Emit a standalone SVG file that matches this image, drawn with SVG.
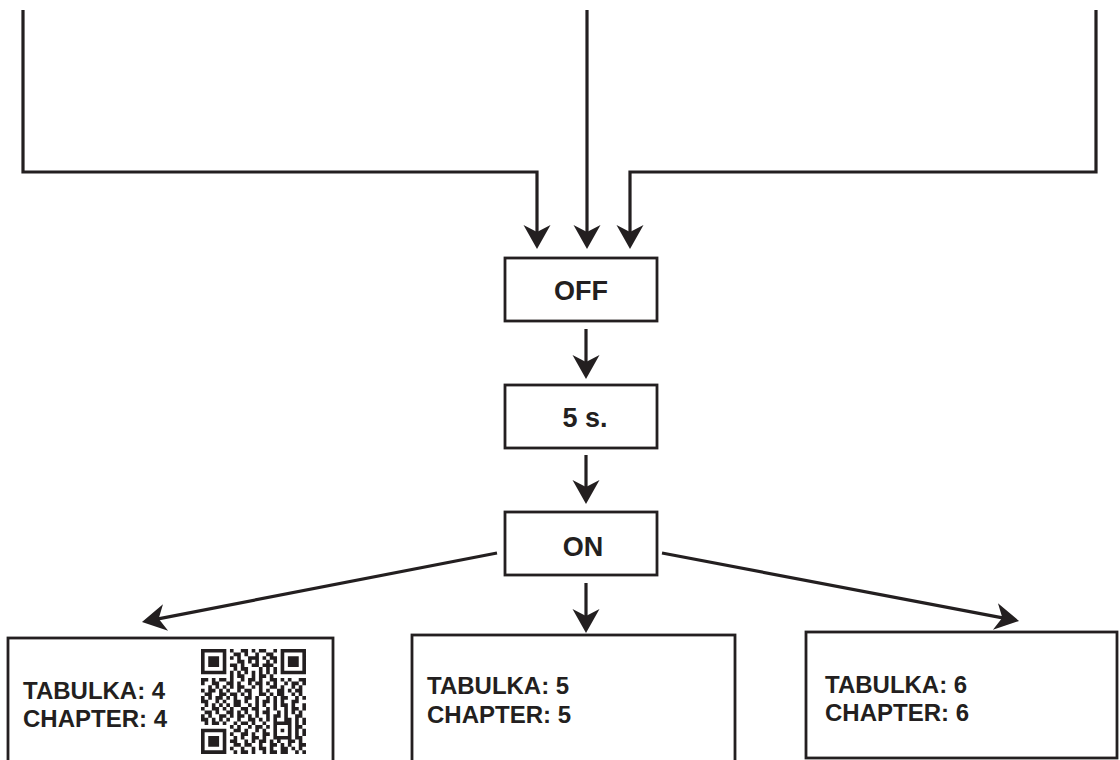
<svg xmlns="http://www.w3.org/2000/svg" width="1120" height="760" viewBox="0 0 1120 760">
<defs>
<style>
.ln{fill:none;stroke:#231f20;stroke-width:3.2;marker-end:url(#ah)}
.bx{fill:#fff;stroke:#231f20;stroke-width:2.8}
.t{font-family:"Liberation Sans",Arial,sans-serif;font-weight:bold;fill:#231f20}
.tc{font-size:27px;text-anchor:middle}
.tb{font-size:24px}
</style>
<marker id="ah" markerUnits="userSpaceOnUse" orient="auto" refX="0" refY="0" markerWidth="40" markerHeight="40" overflow="visible">
<path d="M10,0 L-14,-13.5 L-7,0 L-14,13.5 Z" fill="#231f20"/>
</marker>
</defs>
<rect width="1120" height="760" fill="#fff"/>
<g id="connectors">
<path class="ln" d="M23,10 V172 H537 V239"/>
<path class="ln" d="M587,10 V239"/>
<path class="ln" d="M1096,10 V172 H630 V239"/>
<path class="ln" d="M586,329 V369"/>
<path class="ln" d="M586,455 V494"/>
<path class="ln" d="M586,583 V623"/>
<path class="ln" d="M497,553 L151.8,620.1"/>
<path class="ln" d="M662,553 L1009.2,619.1"/>
</g>
<g id="node-off">
<rect class="bx" x="505" y="258" width="152" height="63"/>
<text class="t tc" x="581" y="300">OFF</text>
</g>
<g id="node-5s">
<rect class="bx" x="505" y="385" width="152" height="63"/>
<text class="t tc" x="585" y="427">5 s.</text>
</g>
<g id="node-on">
<rect class="bx" x="505" y="512" width="152" height="63"/>
<text class="t tc" x="583" y="556">ON</text>
</g>
<g id="node-ch4">
<rect class="bx" x="8" y="638" width="325" height="140"/>
<text class="t tb" x="23" y="699">TABULKA: 4</text>
<text class="t tb" x="23" y="727">CHAPTER: 4</text>
<path fill="#231f20" transform="translate(201,649) scale(3.62)" d="M0 0h7v1h-7zM8 0h1v1h-1zM11 0h2v1h-2zM14 0h1v1h-1zM16 0h2v1h-2zM20 0h1v1h-1zM22 0h7v1h-7zM0 1h1v1h-1zM6 1h1v1h-1zM9 1h2v1h-2zM12 1h1v1h-1zM15 1h1v1h-1zM18 1h2v1h-2zM22 1h1v1h-1zM28 1h1v1h-1zM0 2h1v1h-1zM2 2h3v1h-3zM6 2h1v1h-1zM8 2h1v1h-1zM10 2h1v1h-1zM13 2h3v1h-3zM17 2h1v1h-1zM19 2h2v1h-2zM22 2h1v1h-1zM24 2h3v1h-3zM28 2h1v1h-1zM0 3h1v1h-1zM2 3h3v1h-3zM6 3h1v1h-1zM10 3h2v1h-2zM13 3h1v1h-1zM15 3h1v1h-1zM18 3h1v1h-1zM20 3h1v1h-1zM22 3h1v1h-1zM24 3h3v1h-3zM28 3h1v1h-1zM0 4h1v1h-1zM2 4h3v1h-3zM6 4h1v1h-1zM8 4h2v1h-2zM11 4h1v1h-1zM14 4h2v1h-2zM17 4h3v1h-3zM22 4h1v1h-1zM24 4h3v1h-3zM28 4h1v1h-1zM0 5h1v1h-1zM6 5h1v1h-1zM9 5h1v1h-1zM11 5h2v1h-2zM16 5h1v1h-1zM18 5h1v1h-1zM20 5h1v1h-1zM22 5h1v1h-1zM28 5h1v1h-1zM0 6h7v1h-7zM8 6h1v1h-1zM10 6h1v1h-1zM12 6h1v1h-1zM14 6h1v1h-1zM16 6h1v1h-1zM18 6h1v1h-1zM20 6h1v1h-1zM22 6h7v1h-7zM8 7h1v1h-1zM10 7h2v1h-2zM14 7h1v1h-1zM16 7h2v1h-2zM19 7h1v1h-1zM0 8h2v1h-2zM3 8h1v1h-1zM5 8h2v1h-2zM8 8h1v1h-1zM11 8h1v1h-1zM13 8h2v1h-2zM16 8h1v1h-1zM19 8h2v1h-2zM22 8h1v1h-1zM24 8h1v1h-1zM27 8h2v1h-2zM0 9h1v1h-1zM3 9h2v1h-2zM7 9h2v1h-2zM10 9h1v1h-1zM13 9h1v1h-1zM15 9h2v1h-2zM18 9h1v1h-1zM20 9h1v1h-1zM23 9h1v1h-1zM25 9h2v1h-2zM28 9h1v1h-1zM2 10h1v1h-1zM4 10h1v1h-1zM6 10h1v1h-1zM8 10h1v1h-1zM10 10h2v1h-2zM14 10h1v1h-1zM16 10h1v1h-1zM19 10h2v1h-2zM22 10h1v1h-1zM25 10h1v1h-1zM27 10h1v1h-1zM0 11h1v1h-1zM2 11h2v1h-2zM5 11h1v1h-1zM7 11h1v1h-1zM10 11h1v1h-1zM12 11h2v1h-2zM16 11h1v1h-1zM18 11h1v1h-1zM21 11h2v1h-2zM24 11h1v1h-1zM26 11h2v1h-2zM1 12h2v1h-2zM5 12h2v1h-2zM8 12h2v1h-2zM11 12h1v1h-1zM13 12h1v1h-1zM16 12h2v1h-2zM19 12h1v1h-1zM21 12h2v1h-2zM25 12h1v1h-1zM27 12h1v1h-1zM0 13h1v1h-1zM2 13h1v1h-1zM4 13h2v1h-2zM7 13h1v1h-1zM9 13h1v1h-1zM12 13h2v1h-2zM15 13h1v1h-1zM18 13h1v1h-1zM20 13h1v1h-1zM22 13h2v1h-2zM26 13h1v1h-1zM28 13h1v1h-1zM0 14h2v1h-2zM4 14h1v1h-1zM6 14h1v1h-1zM9 14h2v1h-2zM12 14h1v1h-1zM15 14h1v1h-1zM17 14h2v1h-2zM20 14h1v1h-1zM22 14h1v1h-1zM25 14h2v1h-2zM1 15h1v1h-1zM3 15h1v1h-1zM5 15h1v1h-1zM7 15h1v1h-1zM9 15h2v1h-2zM13 15h1v1h-1zM15 15h1v1h-1zM17 15h1v1h-1zM20 15h1v1h-1zM22 15h2v1h-2zM25 15h1v1h-1zM28 15h1v1h-1zM0 16h1v1h-1zM3 16h2v1h-2zM6 16h1v1h-1zM8 16h1v1h-1zM11 16h2v1h-2zM14 16h2v1h-2zM18 16h1v1h-1zM20 16h1v1h-1zM23 16h1v1h-1zM25 16h2v1h-2zM28 16h1v1h-1zM1 17h2v1h-2zM4 17h1v1h-1zM7 17h2v1h-2zM10 17h1v1h-1zM12 17h1v1h-1zM15 17h1v1h-1zM17 17h2v1h-2zM21 17h1v1h-1zM23 17h1v1h-1zM25 17h1v1h-1zM27 17h1v1h-1zM0 18h1v1h-1zM2 18h1v1h-1zM5 18h2v1h-2zM8 18h1v1h-1zM10 18h2v1h-2zM13 18h1v1h-1zM15 18h1v1h-1zM18 18h1v1h-1zM20 18h2v1h-2zM23 18h1v1h-1zM26 18h2v1h-2zM0 19h2v1h-2zM3 19h1v1h-1zM5 19h1v1h-1zM7 19h1v1h-1zM10 19h1v1h-1zM13 19h2v1h-2zM16 19h1v1h-1zM18 19h1v1h-1zM20 19h1v1h-1zM23 19h2v1h-2zM26 19h1v1h-1zM28 19h1v1h-1zM1 20h1v1h-1zM3 20h2v1h-2zM6 20h1v1h-1zM9 20h1v1h-1zM11 20h2v1h-2zM14 20h1v1h-1zM17 20h1v1h-1zM20 20h5v1h-5zM26 20h1v1h-1zM28 20h1v1h-1zM8 21h1v1h-1zM10 21h1v1h-1zM13 21h1v1h-1zM15 21h2v1h-2zM18 21h1v1h-1zM20 21h1v1h-1zM24 21h1v1h-1zM26 21h2v1h-2zM0 22h7v1h-7zM9 22h2v1h-2zM12 22h1v1h-1zM15 22h1v1h-1zM17 22h1v1h-1zM20 22h1v1h-1zM22 22h1v1h-1zM24 22h1v1h-1zM26 22h1v1h-1zM28 22h1v1h-1zM0 23h1v1h-1zM6 23h1v1h-1zM8 23h1v1h-1zM11 23h2v1h-2zM14 23h1v1h-1zM17 23h2v1h-2zM20 23h1v1h-1zM24 23h1v1h-1zM26 23h1v1h-1zM28 23h1v1h-1zM0 24h1v1h-1zM2 24h3v1h-3zM6 24h1v1h-1zM9 24h1v1h-1zM11 24h1v1h-1zM14 24h2v1h-2zM17 24h1v1h-1zM20 24h5v1h-5zM26 24h2v1h-2zM0 25h1v1h-1zM2 25h3v1h-3zM6 25h1v1h-1zM8 25h2v1h-2zM12 25h1v1h-1zM14 25h1v1h-1zM16 25h2v1h-2zM19 25h1v1h-1zM21 25h1v1h-1zM24 25h2v1h-2zM27 25h1v1h-1zM0 26h1v1h-1zM2 26h3v1h-3zM6 26h1v1h-1zM9 26h2v1h-2zM12 26h2v1h-2zM16 26h1v1h-1zM19 26h2v1h-2zM22 26h1v1h-1zM24 26h1v1h-1zM27 26h2v1h-2zM0 27h1v1h-1zM6 27h1v1h-1zM8 27h1v1h-1zM11 27h1v1h-1zM14 27h1v1h-1zM16 27h2v1h-2zM19 27h1v1h-1zM22 27h2v1h-2zM25 27h1v1h-1zM27 27h1v1h-1zM0 28h7v1h-7zM9 28h1v1h-1zM11 28h2v1h-2zM14 28h1v1h-1zM17 28h1v1h-1zM19 28h2v1h-2zM22 28h2v1h-2zM26 28h1v1h-1zM28 28h1v1h-1z"/>
</g>
<g id="node-ch5">
<rect class="bx" x="412" y="635" width="323" height="140"/>
<text class="t tb" x="427" y="694">TABULKA: 5</text>
<text class="t tb" x="427" y="723">CHAPTER: 5</text>
</g>
<g id="node-ch6">
<rect class="bx" x="806" y="632" width="311" height="126"/>
<text class="t tb" x="825" y="693">TABULKA: 6</text>
<text class="t tb" x="825" y="721">CHAPTER: 6</text>
</g>
</svg>
